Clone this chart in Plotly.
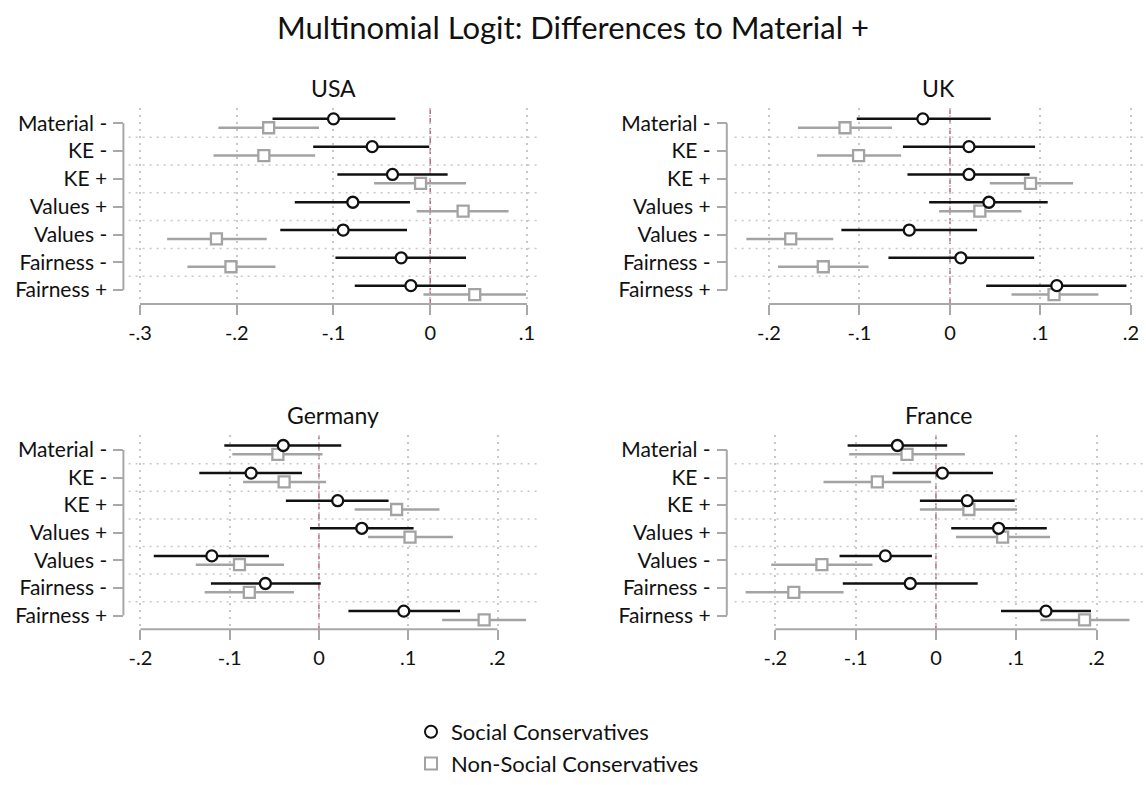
import plotly.graph_objects as go

# ---------------- data ----------------
categories = ["Material -", "KE -", "KE +", "Values +", "Values -", "Fairness -", "Fairness +"]
countries = ["USA", "UK", "Germany", "France"]

usa_sc_est = [-0.100, -0.060, -0.039, -0.080, -0.090, -0.030, -0.020]
usa_sc_lo = [-0.163, -0.121, -0.096, -0.140, -0.155, -0.098, -0.078]
usa_sc_hi = [-0.036, -0.001, 0.018, -0.021, -0.024, 0.037, 0.037]
usa_nsc_est = [-0.167, -0.172, -0.010, 0.034, -0.221, -0.206, 0.046]
usa_nsc_lo = [-0.219, -0.224, -0.058, -0.014, -0.272, -0.251, -0.007]
usa_nsc_hi = [-0.115, -0.119, 0.037, 0.081, -0.169, -0.160, 0.099]

uk_sc_est = [-0.030, 0.021, 0.021, 0.043, -0.045, 0.012, 0.118]
uk_sc_lo = [-0.103, -0.052, -0.047, -0.023, -0.120, -0.068, 0.040]
uk_sc_hi = [0.045, 0.094, 0.088, 0.108, 0.030, 0.093, 0.195]
uk_nsc_est = [-0.116, -0.101, 0.089, 0.033, -0.176, -0.140, 0.115]
uk_nsc_lo = [-0.168, -0.147, 0.044, -0.012, -0.225, -0.190, 0.068]
uk_nsc_hi = [-0.064, -0.054, 0.136, 0.079, -0.129, -0.090, 0.164]

de_sc_est = [-0.040, -0.076, 0.021, 0.048, -0.120, -0.060, 0.095]
de_sc_lo = [-0.106, -0.134, -0.037, -0.010, -0.185, -0.121, 0.033]
de_sc_hi = [0.025, -0.019, 0.078, 0.106, -0.056, 0.002, 0.158]
de_nsc_est = [-0.046, -0.039, 0.087, 0.102, -0.089, -0.078, 0.185]
de_nsc_lo = [-0.097, -0.085, 0.040, 0.055, -0.138, -0.128, 0.138]
de_nsc_hi = [0.004, 0.008, 0.135, 0.150, -0.039, -0.028, 0.232]

fr_sc_est = [-0.048, 0.008, 0.039, 0.078, -0.063, -0.032, 0.137]
fr_sc_lo = [-0.110, -0.054, -0.020, 0.019, -0.120, -0.116, 0.081]
fr_sc_hi = [0.014, 0.071, 0.098, 0.138, -0.005, 0.052, 0.193]
fr_nsc_est = [-0.036, -0.073, 0.041, 0.083, -0.142, -0.177, 0.185]
fr_nsc_lo = [-0.108, -0.140, -0.020, 0.025, -0.205, -0.237, 0.130]
fr_nsc_hi = [0.036, -0.006, 0.101, 0.142, -0.079, -0.115, 0.241]

usa_ticks = [-0.3, -0.2, -0.1, 0.0, 0.1]
usa_ticktext = ["-.3", "-.2", "-.1", "0", ".1"]
other_ticks = [-0.2, -0.1, 0.0, 0.1, 0.2]
other_ticktext = ["-.2", "-.1", "0", ".1", ".2"]

series_names = ["Social Conservatives", "Non-Social Conservatives"]

# ---------------- layout settings ----------------
W, H = 1146, 785
FONT = "Lato"
BLACK = "#111111"
GREY = "#a3a3a3"
AXGREY = "#a8a8a8"
GRIDGREY = "#c8c8c8"
REFRED = "#b8678a"

panels = [
    dict(name="USA", data=(usa_sc_est, usa_sc_lo, usa_sc_hi, usa_nsc_est, usa_nsc_lo, usa_nsc_hi),
         ticks=usa_ticks, ticktext=usa_ticktext, xdom=(128.6, 537.5), ydom=(108.3, 304.0),
         xrange=(-0.3118, 0.1109), ypos=123.4),
    dict(name="UK", data=(uk_sc_est, uk_sc_lo, uk_sc_hi, uk_nsc_est, uk_nsc_lo, uk_nsc_hi),
         ticks=other_ticks, ticktext=other_ticktext, xdom=(734.6, 1143.0), ydom=(108.3, 304.0),
         xrange=(-0.2380, 0.2133), ypos=726.8),
    dict(name="Germany", data=(de_sc_est, de_sc_lo, de_sc_hi, de_nsc_est, de_nsc_lo, de_nsc_hi),
         ticks=other_ticks, ticktext=other_ticktext, xdom=(128.6, 537.5), ydom=(435.0, 629.3),
         xrange=(-0.2132, 0.2448), ypos=123.4),
    dict(name="France", data=(fr_sc_est, fr_sc_lo, fr_sc_hi, fr_nsc_est, fr_nsc_lo, fr_nsc_hi),
         ticks=other_ticks, ticktext=other_ticktext, xdom=(734.6, 1143.0), ydom=(435.0, 629.3),
         xrange=(-0.2507, 0.2578), ypos=726.8),
]

DODGE = 0.16
fig = go.Figure()
layout = dict(
    width=W, height=H, margin=dict(l=0, r=0, t=0, b=0, autoexpand=False),
    paper_bgcolor="white", plot_bgcolor="white",
    font=dict(family=FONT, color=BLACK, size=20),
    showlegend=True,
)
shapes = []
annotations = []

rows = list(range(len(categories)))

for i, p in enumerate(panels):
    sfx = "" if i == 0 else str(i + 1)
    xa, ya = "x" + sfx, "y" + sfx
    sc_est, sc_lo, sc_hi, nsc_est, nsc_lo, nsc_hi = p["data"]

    for est, lo, hi, off, color, symbol, nm, lg in [
        (nsc_est, nsc_lo, nsc_hi, DODGE, GREY, "square", series_names[1], "b"),
        (sc_est, sc_lo, sc_hi, -DODGE, BLACK, "circle", series_names[0], "a"),
    ]:
        fig.add_trace(go.Scatter(
            x=est, y=[r + off for r in rows], mode="markers",
            xaxis=xa, yaxis=ya, name=nm, legendgroup=lg,
            showlegend=(i == 0),
            legendrank=(1 if lg == "a" else 2),
            marker=dict(symbol=symbol, size=11, color="white", line=dict(color=color, width=2.3)),
            error_x=dict(type="data", symmetric=False,
                         array=[h - e for h, e in zip(hi, est)],
                         arrayminus=[e - l for e, l in zip(est, lo)],
                         color=color, thickness=2.5, width=0),
            hoverinfo="skip",
        ))

    x0, x1 = p["xdom"]
    ytop, ybot = p["ydom"]
    layout["xaxis" + sfx] = dict(
        domain=[x0 / W, x1 / W], range=list(p["xrange"]), anchor=ya,
        tickmode="array", tickvals=p["ticks"], ticktext=p["ticktext"],
        ticks="outside", ticklen=10, tickwidth=2, tickcolor=AXGREY,
        showline=False, zeroline=False,
        showgrid=True, griddash="2px,5px", gridcolor=GRIDGREY, gridwidth=1.5,
        tickfont=dict(size=20, family=FONT, color=BLACK),
        ticklabelstandoff=1, fixedrange=True, automargin=False,
    )
    layout["yaxis" + sfx] = dict(
        domain=[1 - ybot / H, 1 - ytop / H], range=[6.5, -0.54],
        anchor="free", position=p["ypos"] / W,
        tickmode="array", tickvals=rows, ticktext=categories,
        ticks="outside", ticklen=10, tickwidth=2, tickcolor=AXGREY,
        showline=False, zeroline=False, showgrid=False,
        tickfont=dict(size=21, family=FONT, color=BLACK),
        ticklabelstandoff=2, fixedrange=True, automargin=False,
    )
    for r in rows[:-1]:
        shapes.append(dict(type="line", xref=xa + " domain", yref=ya,
                           x0=0, x1=1, y0=r + 0.5, y1=r + 0.5,
                           line=dict(color=GRIDGREY, width=1.5, dash="2px,5px"), layer="below"))
    shapes.append(dict(type="line", xref="paper", yref=ya,
                       x0=p["ypos"] / W, x1=p["ypos"] / W, y0=rows[0], y1=rows[-1],
                       line=dict(color=AXGREY, width=2)))
    shapes.append(dict(type="line", xref=xa, yref=ya + " domain",
                       x0=p["ticks"][0], x1=p["ticks"][-1], y0=0, y1=0,
                       line=dict(color=AXGREY, width=2)))
    shapes.append(dict(type="line", xref=xa, yref=ya + " domain",
                       x0=0, x1=0, y0=0, y1=1,
                       line=dict(color=REFRED, width=1.5, dash="6px,4px"), layer="below"))
    annotations.append(dict(text=p["name"], xref="paper", yref="paper",
                            x=(x0 + x1) / 2 / W, y=1 - (ytop - 20) / H,
                            xanchor="center", yanchor="middle", showarrow=False,
                            font=dict(size=23, family=FONT, color=BLACK)))

layout["shapes"] = shapes
layout["annotations"] = annotations
layout["title"] = dict(text="Multinomial Logit: Differences to Material +",
                       x=0.5, xanchor="center", y=1 - 28 / H, yanchor="middle",
                       font=dict(size=31, family=FONT, color=BLACK))
layout["legend"] = dict(x=411 / W, xanchor="left", y=0.0, yanchor="bottom",
                        traceorder="normal",
                        font=dict(size=22, family=FONT, color=BLACK),
                        bgcolor="rgba(0,0,0,0)", itemsizing="constant")
fig.update_layout(**layout)
fig.write_html("out.html", config={"displayModeBar": False},
               post_script="document.body.style.margin='0';document.body.style.overflow='hidden';")
